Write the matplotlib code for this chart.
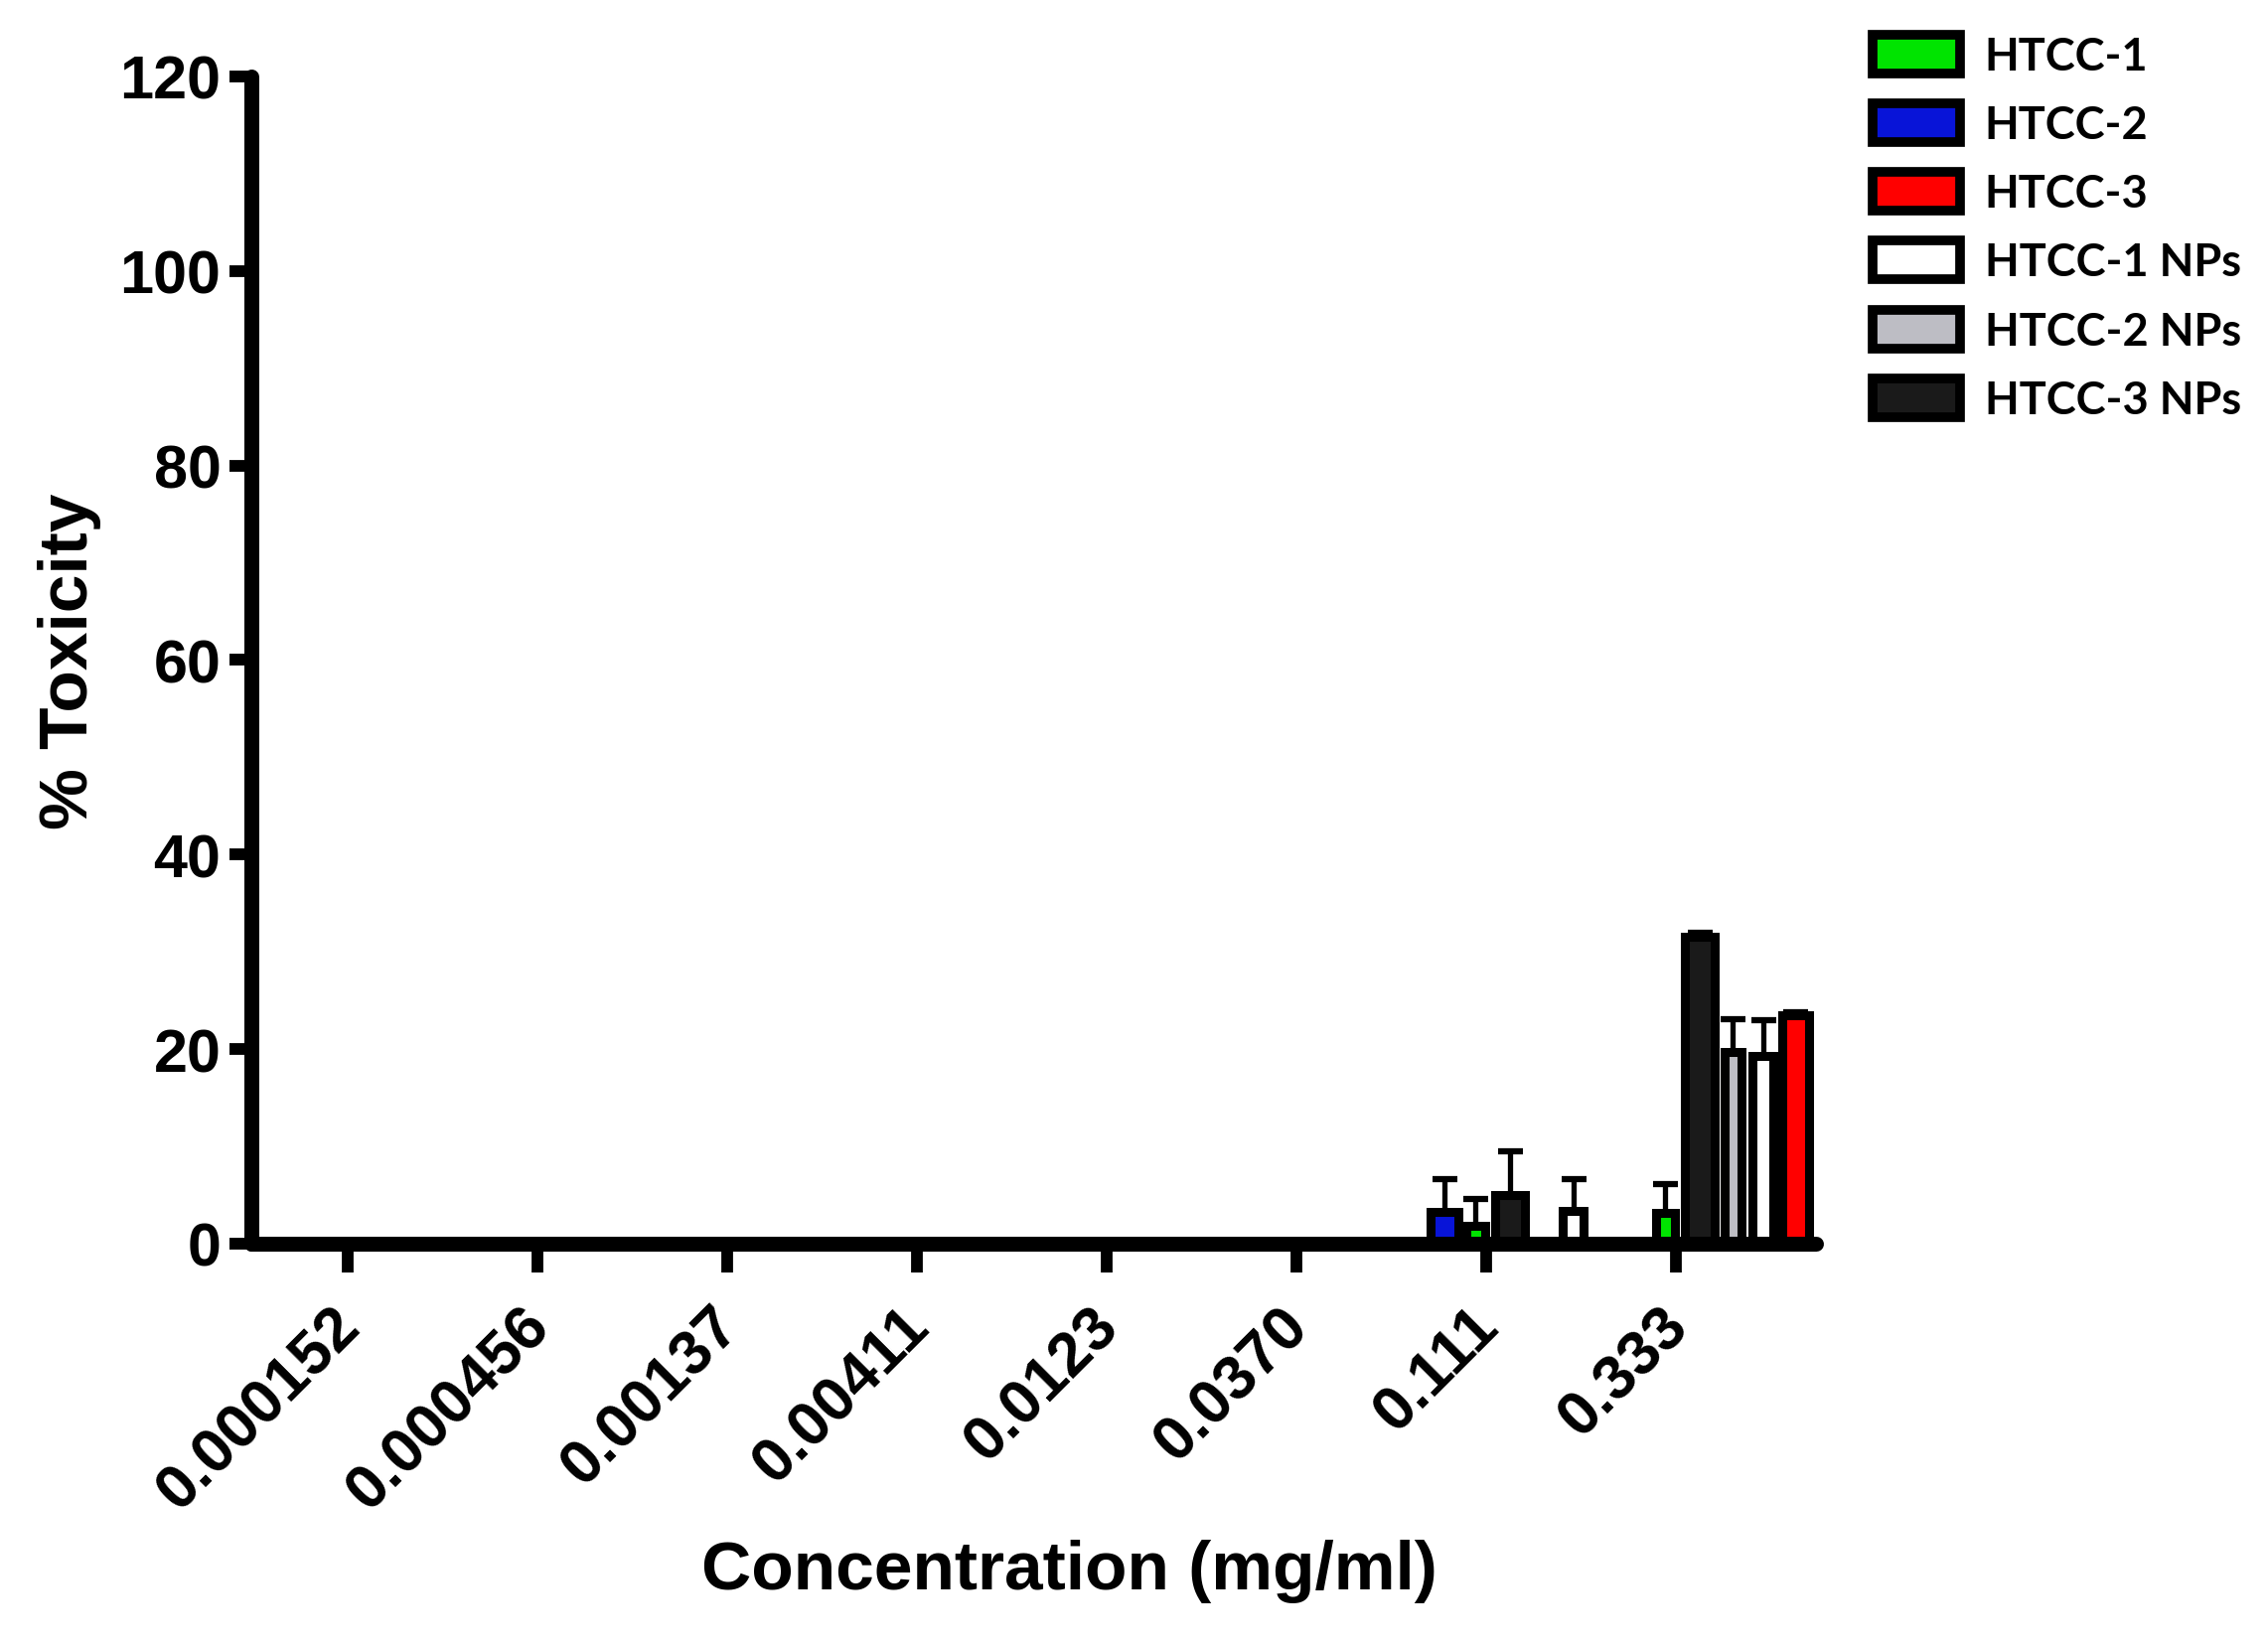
import numpy as np
import matplotlib.pyplot as plt
import matplotlib.transforms as mtransforms
from matplotlib.patches import Patch

# concentrations (mg/ml)
categories = ["0.000152", "0.000456", "0.00137", "0.00411",
              "0.0123", "0.0370", "0.111", "0.333"]

series_names = ["HTCC-1", "HTCC-2", "HTCC-3",
                "HTCC-1 NPs", "HTCC-2 NPs", "HTCC-3 NPs"]

# % toxicity, mean and upper SD
htcc1 = [0, 0, 0, 0, 0, 0, 1.8, 3.2]
htcc1_err = [0, 0, 0, 0, 0, 0, 2.8, 2.9]
htcc2 = [0, 0, 0, 0, 0, 0, 3.3, 0]
htcc2_err = [0, 0, 0, 0, 0, 0, 3.3, 0]
htcc3 = [0, 0, 0, 0, 0, 0, 0, 23.5]
htcc3_err = [0, 0, 0, 0, 0, 0, 0, 0.3]
htcc1_np = [0, 0, 0, 0, 0, 0, 3.4, 19.3]
htcc1_np_err = [0, 0, 0, 0, 0, 0, 3.2, 3.7]
htcc2_np = [0, 0, 0, 0, 0, 0, 0, 19.7]
htcc2_np_err = [0, 0, 0, 0, 0, 0, 0, 3.4]
htcc3_np = [0, 0, 0, 0, 0, 0, 5.0, 31.6]
htcc3_np_err = [0, 0, 0, 0, 0, 0, 4.5, 0.4]

values = {"HTCC-1": htcc1, "HTCC-2": htcc2, "HTCC-3": htcc3,
          "HTCC-1 NPs": htcc1_np, "HTCC-2 NPs": htcc2_np, "HTCC-3 NPs": htcc3_np}
errors = {"HTCC-1": htcc1_err, "HTCC-2": htcc2_err, "HTCC-3": htcc3_err,
          "HTCC-1 NPs": htcc1_np_err, "HTCC-2 NPs": htcc2_np_err, "HTCC-3 NPs": htcc3_np_err}

# styling / layout
colors = {"HTCC-1": "#00E400", "HTCC-2": "#0814D8", "HTCC-3": "#FF0000",
          "HTCC-1 NPs": "#FFFFFF", "HTCC-2 NPs": "#BDBDC4", "HTCC-3 NPs": "#1A1A1A"}
offsets = {"HTCC-2": -0.22, "HTCC-1": -0.055, "HTCC-3 NPs": 0.125,
           "HTCC-2 NPs": 0.30, "HTCC-1 NPs": 0.46, "HTCC-3": 0.63}
widths = {"HTCC-2": 0.15, "HTCC-1": 0.10, "HTCC-3 NPs": 0.16,
          "HTCC-2 NPs": 0.09, "HTCC-1 NPs": 0.11, "HTCC-3": 0.14}
draw_order = ["HTCC-2", "HTCC-1", "HTCC-3 NPs", "HTCC-2 NPs", "HTCC-1 NPs", "HTCC-3"]

plt.rcParams['font.family'] = ['Liberation Sans', 'DejaVu Sans']
plt.rcParams['font.weight'] = 'bold'

fig = plt.figure(figsize=(22.83, 16.58), dpi=100)
ax = fig.add_axes([0.1108, 0.2443, 0.690, 0.7087])

x = np.arange(len(categories))
for name in draw_order:
    v = np.array(values[name])
    e = np.array(errors[name])
    xs = x + offsets[name]
    ax.bar(xs, v, width=widths[name], color=colors[name],
           edgecolor='black', linewidth=6.5, zorder=2)
    m = e > 0
    ax.errorbar(xs[m], v[m], yerr=[np.zeros(m.sum()), e[m]], fmt='none',
                ecolor='black', elinewidth=3.8, capsize=9, capthick=4.5, zorder=2)

ax.set_xlim(-0.51, 7.74)
ax.set_ylim(0, 120)
ax.set_yticks(np.arange(0, 121, 20))
ax.set_xticks(x)

for side in ['top', 'right']:
    ax.spines[side].set_visible(False)
for side in ['left', 'bottom']:
    ax.spines[side].set_linewidth(10.8)
    ax.spines[side].set_capstyle('round')
ax.tick_params(axis='y', length=16, width=8.5, pad=6, zorder=3)
ax.tick_params(axis='x', length=21, width=8.5, pad=14)
for t in ax.xaxis.get_major_ticks() + ax.yaxis.get_major_ticks():
    t.tick1line.set_solid_capstyle('round')

ax.set_xticklabels(categories, rotation=45, ha='right', va='top',
                   rotation_mode='anchor', fontsize=45, fontweight='bold')
shift = mtransforms.ScaledTranslation(-0.18, -0.04, fig.dpi_scale_trans)
for lab in ax.get_xticklabels():
    lab.set_transform(lab.get_transform() + shift)
for lab in ax.get_yticklabels():
    lab.set_fontsize(44)
    lab.set_fontweight('bold')

ax.set_ylabel("% Toxicity", fontsize=50, fontweight='bold')
ax.yaxis.set_label_coords(-0.096, 0.5)
ax.set_xlabel("Concentration (mg/ml)", fontsize=50, fontweight='bold')
ax.xaxis.set_label_coords(0.523, -0.253)

handles = [Patch(facecolor=colors[n], edgecolor='black', linewidth=7) for n in series_names]
fig.legend(handles, series_names, loc='upper left',
           bbox_to_anchor=(1885 / 2283, 1 - 36 / 1658), frameon=False,
           prop={'family': 'Lato', 'weight': 'bold', 'size': 32.5},
           handlelength=1.95, handleheight=0.95, labelspacing=0.58,
           handletextpad=0.55, borderpad=0, borderaxespad=0)

fig.savefig("out.png", dpi=100, facecolor='white')
